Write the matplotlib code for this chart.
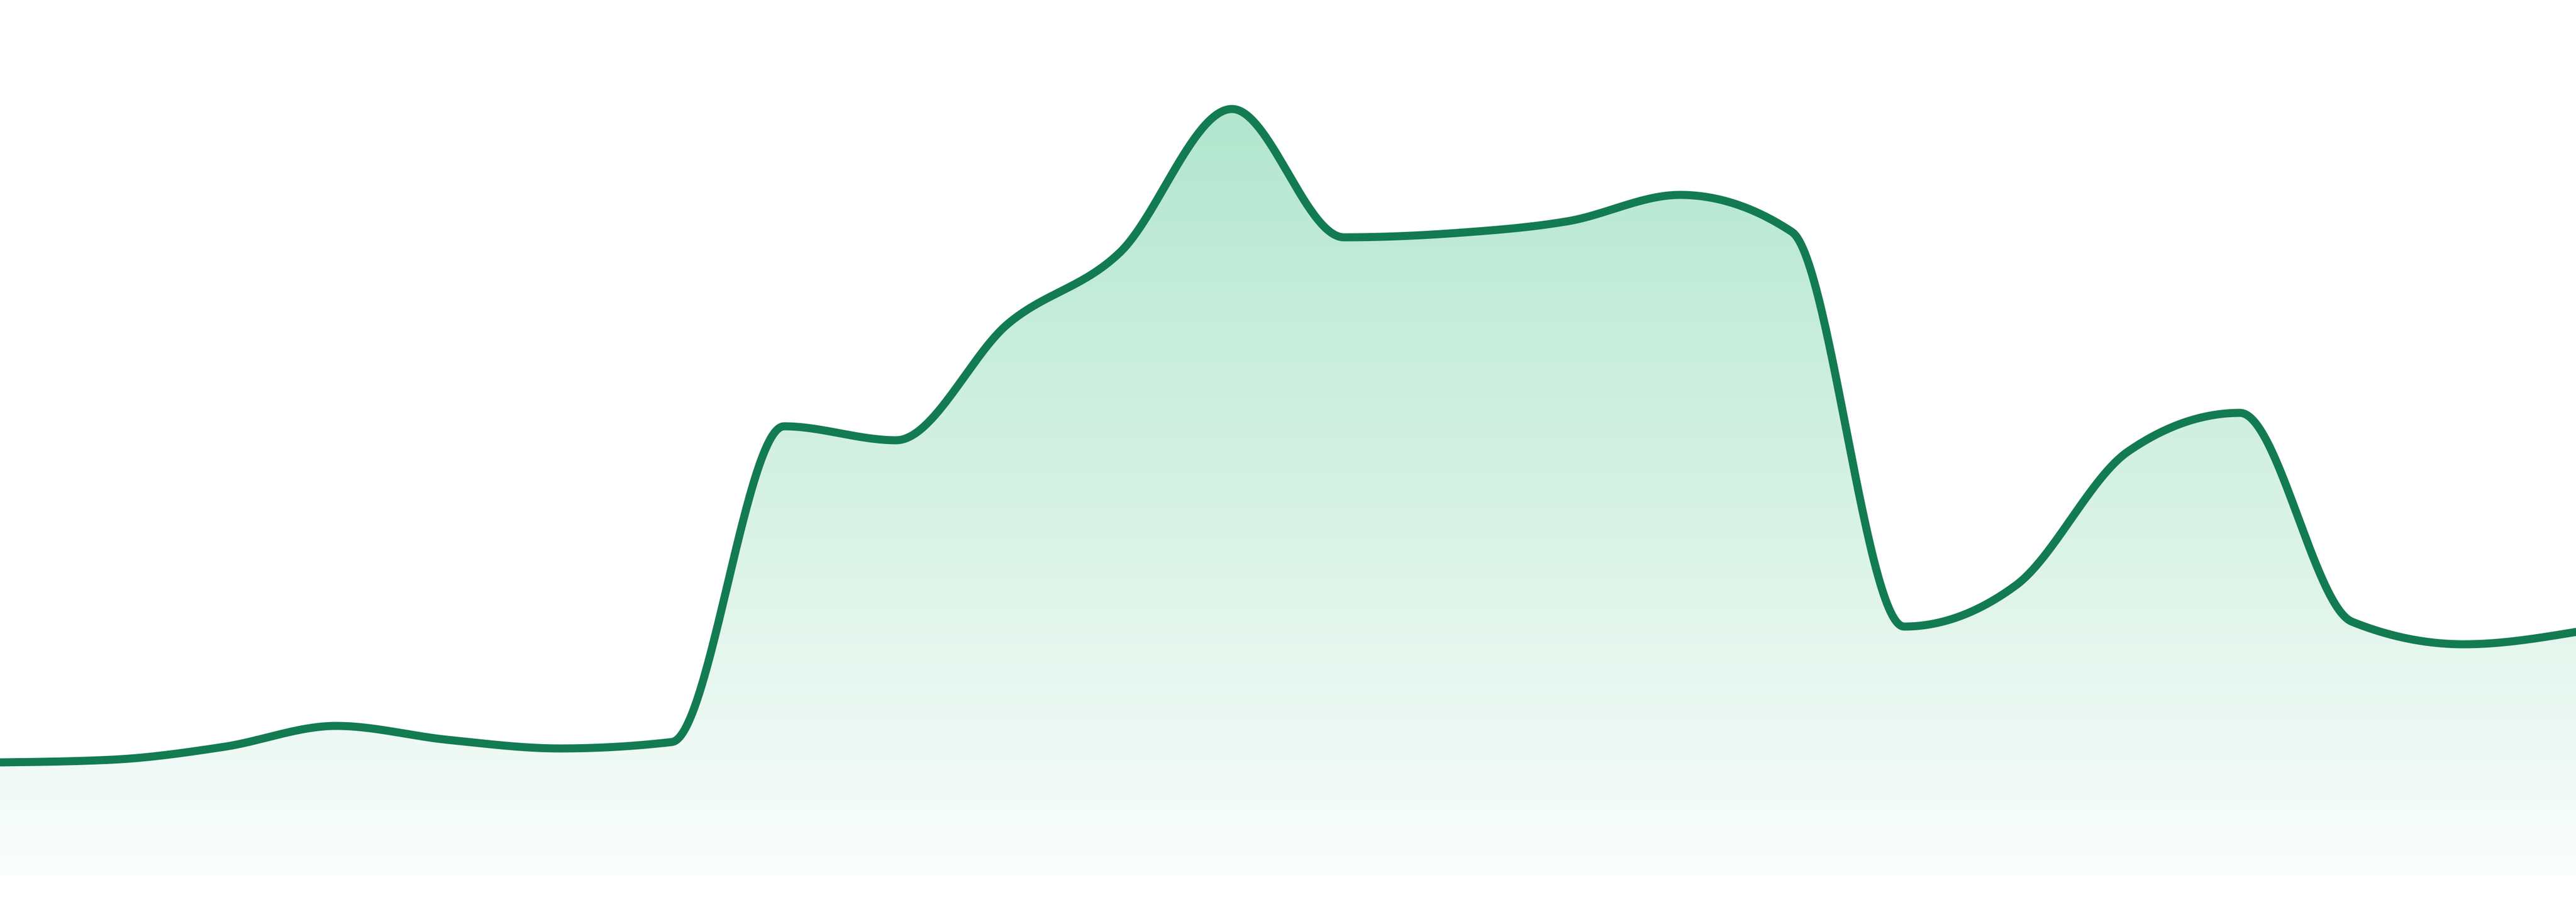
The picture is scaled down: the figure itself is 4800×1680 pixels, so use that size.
import numpy as np
import matplotlib
matplotlib.use("Agg")
import matplotlib.pyplot as plt
from matplotlib.colors import LinearSegmentedColormap

# values, 24 evenly spaced points
points = list(range(24))
values = [21.2, 21.7, 24.1, 28.0, 25.4, 23.8, 25.0, 83.8, 81.2, 102.9, 116.2, 142.9,
          119.0, 119.8, 122.0, 126.9, 120.0, 46.5, 54.2, 79.1, 86.3, 47.4, 43.2, 45.5]

line_color = "#127b51"
top_color = (178 / 255, 230 / 255, 207 / 255)
bottom_color = (250 / 255, 253 / 255, 252 / 255)


def monotone_x(x, y, n=60):
    # same idea as d3.curveMonotoneX (Steffen slopes, cubic hermite)
    x = np.asarray(x, float)
    y = np.asarray(y, float)
    h = np.diff(x)
    s = np.diff(y) / h
    m = np.zeros_like(y)
    for i in range(1, len(y) - 1):
        s0, s1 = s[i - 1], s[i]
        p = (s0 * h[i] + s1 * h[i - 1]) / (h[i - 1] + h[i])
        m[i] = (np.sign(s0) + np.sign(s1)) * min(abs(s0), abs(s1), 0.5 * abs(p))
    m[0] = (3 * s[0] - m[1]) / 2
    m[-1] = (3 * s[-1] - m[-2]) / 2
    xs, ys = [], []
    for i in range(len(x) - 1):
        t = np.linspace(0, 1, n, endpoint=False)
        h00 = 2 * t**3 - 3 * t**2 + 1
        h10 = t**3 - 2 * t**2 + t
        h01 = -2 * t**3 + 3 * t**2
        h11 = t**3 - t**2
        xs.append(x[i] + t * h[i])
        ys.append(h00 * y[i] + h10 * h[i] * m[i] + h01 * y[i + 1] + h11 * h[i] * m[i + 1])
    xs.append([x[-1]])
    ys.append([y[-1]])
    return np.concatenate(xs), np.concatenate(ys)


xs, ys = monotone_x(points, values)

fig = plt.figure(figsize=(48, 16.8), dpi=100)
ax = fig.add_axes([0, 0, 1, 1])
ax.set_xlim(points[0], points[-1])
ax.set_ylim(-4.8, 163.2)
ax.axis("off")

# gradient fill clipped to the area under the curve
area = ax.fill_between(xs, ys, 0, color="none", lw=0)
cmap = LinearSegmentedColormap.from_list("g", [bottom_color, top_color])
grad = np.linspace(0, 1, 256).reshape(-1, 1)
img = ax.imshow(grad, cmap=cmap, aspect="auto", origin="lower",
                extent=[points[0], points[-1], 0, max(values)], zorder=1)
path = area.get_paths()[0]
img.set_clip_path(path, transform=ax.transData)

ax.plot(xs, ys, color=line_color, lw=10.8, solid_capstyle="round",
        solid_joinstyle="round", zorder=2)

fig.savefig("out.png", dpi=100, facecolor="white")
